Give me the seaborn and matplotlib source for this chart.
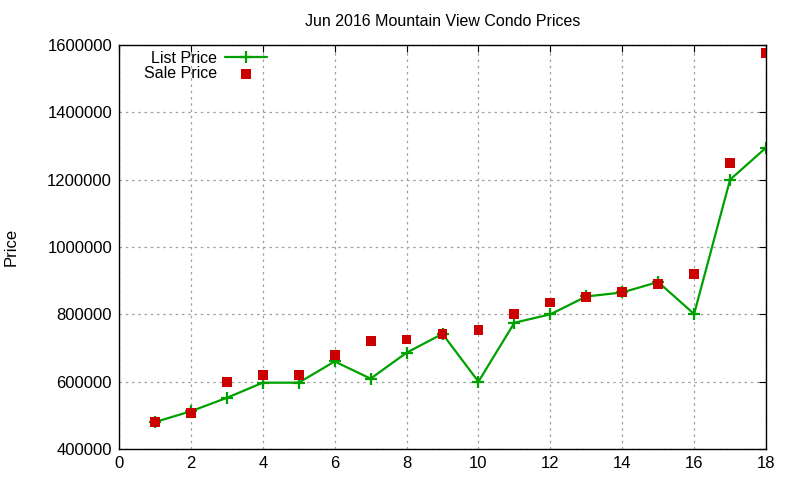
import numpy as np
import pandas as pd
import matplotlib
matplotlib.use('Agg')
import matplotlib.pyplot as plt
import matplotlib.ticker as mticker
import seaborn as sns

# values
listing = list(range(1, 19))
list_price = [480000, 512000, 552000, 597000, 597000, 660000, 609000, 686000, 742000,
              600000, 775000, 800000, 853000, 865000, 896000, 801000, 1200000, 1295000]
sale_price = [481000, 508000, 600000, 620000, 620000, 679000, 722000, 725000, 742000,
              754000, 802000, 835000, 852000, 867000, 891000, 920000, 1250000, 1577000]

df = pd.DataFrame({'n': listing, 'list': list_price, 'sale': sale_price})

sns.set_style('white')
plt.rcParams['font.family'] = ['Liberation Sans', 'DejaVu Sans']
plt.rcParams['text.color'] = 'black'
plt.rcParams['axes.labelcolor'] = 'black'

green = '#00a000'
red = '#cc0000'

fig = plt.figure(figsize=(8, 4.8), dpi=100)
ax = fig.add_axes([119/800, 1 - 449/480, (766-119)/800, (449-45)/480])

sns.lineplot(x='n', y='list', data=df, ax=ax, color=green, linewidth=1.6,
             marker='+', markersize=9, markeredgewidth=1.6, markeredgecolor=green,
             label='List Price')
sns.scatterplot(x='n', y='sale', data=df, ax=ax, color=red, marker='s',
                s=50, edgecolor='none', label='Sale Price', zorder=3)

ax.set_xlim(0, 18)
ax.set_ylim(400000, 1600000)
ax.xaxis.set_major_locator(mticker.MultipleLocator(2))
ax.yaxis.set_major_locator(mticker.MultipleLocator(200000))
ax.yaxis.set_major_formatter(mticker.FuncFormatter(lambda v, p: '%d' % v))
ax.grid(True, color='#a0a0a0', linestyle=(0, (2, 3)), linewidth=0.9)
ax.tick_params(direction='in', length=5, top=True, right=True, labelsize=12,
               colors='black', pad=5)
for s in ax.spines.values():
    s.set_color('black')
    s.set_linewidth(1.0)

ax.set_xlabel('')
ax.set_ylabel('Price', fontsize=12)
ax.yaxis.set_label_coords(-0.155, 0.5)
ax.set_title('Jun 2016 Mountain View Condo Prices', fontsize=11.5, pad=14, color='black')

leg = ax.legend(loc='upper left', bbox_to_anchor=(0.024, 1.01), frameon=False, markerfirst=False,
                fontsize=11.5, handlelength=2.6, handletextpad=0.5, labelspacing=0.05,
                borderaxespad=0.2)
for t in leg.get_texts():
    t.set_ha('right')
    t.set_color('black')

fig.savefig('out.png', dpi=100)
